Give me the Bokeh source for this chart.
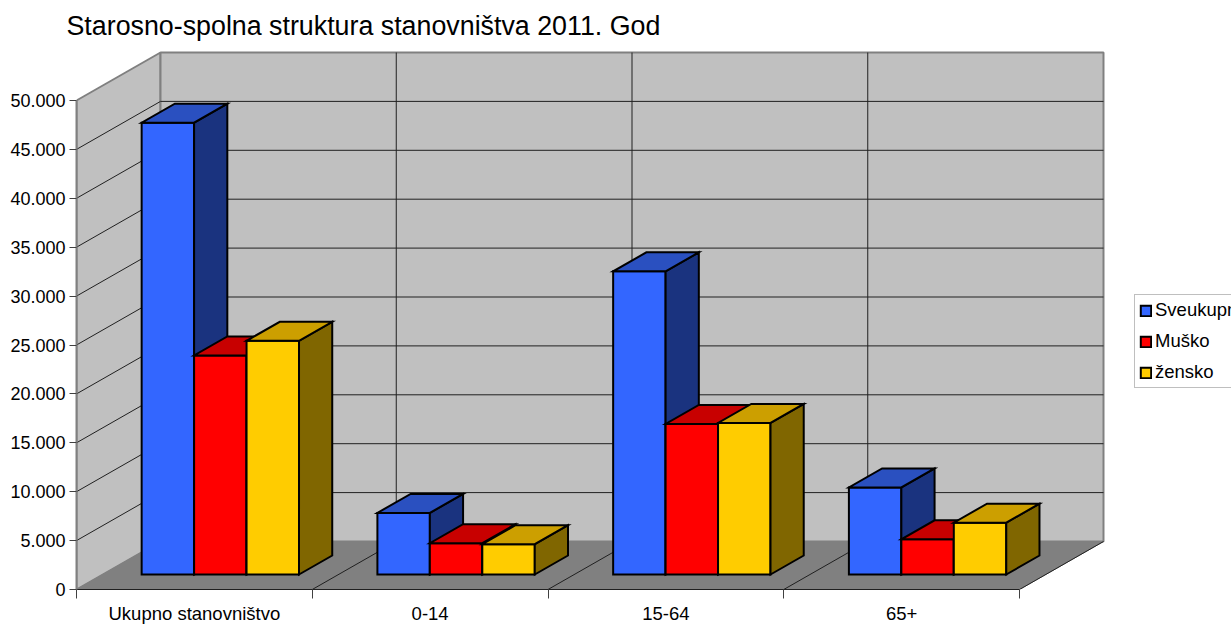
from bokeh.plotting import figure
from bokeh.embed import file_html
from bokeh.resources import INLINE
from bokeh.models import FixedTicker, Legend, LegendItem, Range1d, Title

categories = ["Ukupno stanovništvo", "0-14", "15-64", "65+"]
series_names = ["Sveukupno", "Muško", "žensko"]
sveukupno = [46200, 6300, 31000, 8900]
musko = [22400, 3200, 15400, 3600]
zensko = [23900, 3100, 15500, 5300]
y_ticks = [0, 5000, 10000, 15000, 20000, 25000, 30000, 35000, 40000, 45000, 50000]
y_labels = ["0", "5.000", "10.000", "15.000", "20.000", "25.000", "30.000", "35.000", "40.000", "45.000", "50.000"]

FRONT = ["#3366FF", "#FF0000", "#FFCC00"]
TOP = ["#2A50C0", "#C80000", "#CC9F00"]
SIDE = ["#1A337F", "#800000", "#806600"]

PX_X = 235.75          # px per category
PX_Y = 9.78 / 1000     # px per value unit
DX = 84 / PX_X         # wall depth in x units
DY = 48 / PX_Y         # wall depth in value units
D0, D1 = 0.3125, 0.708 # bar depth span
BAR_X0, BAR_W = 0.165, 0.2225

FW, FH = 1155, 549
p = figure(width=1231, height=624, frame_width=FW, frame_height=FH,
           output_backend="svg", toolbar_location=None,
           x_range=Range1d(0, FW / PX_X), y_range=Range1d(0, FH / PX_Y),
           min_border_left=76, min_border_right=0, min_border_bottom=35, min_border_top=40,
           outline_line_color=None, background_fill_color="white")
p.xgrid.visible = False
p.ygrid.visible = False
p.title = Title(text="Starosno-spolna struktura stanovništva 2011. God", text_font="Liberation Sans",
                text_font_size="26.8px", text_font_style="normal", text_color="#000000",
                align="left", offset=-10, standoff=0)

n = len(categories)
WALL = "#C0C0C0"
EDGE = "#808080"
# walls and floor
top = y_ticks[-1]
p.patch([0, DX, DX, 0], [0, DY, top + DY, top], fill_color=WALL, line_color=EDGE, line_width=2)
p.patch([DX, n + DX, n + DX, DX], [DY, DY, top + DY, top + DY], fill_color=WALL, line_color=EDGE, line_width=2)
p.patch([0, n, n + DX, DX], [0, 0, DY, DY], fill_color="#808080", line_color="#808080", line_width=1)
# grid
p.multi_line([[0, DX, n + DX] for v in y_ticks[1:-1]],
             [[v, v + DY, v + DY] for v in y_ticks[1:-1]], line_color="#202020", line_width=1)
p.multi_line([[k, k + DX, k + DX] for k in range(1, n)],
             [[0, DY, top + DY] for k in range(1, n)], line_color="#202020", line_width=1)
p.line([n, n + DX], [0, DY], line_color="#202020", line_width=1)

items = []
for s, vals in enumerate([sveukupno, musko, zensko]):
    xs, ys, cols = [], [], []
    for k, v in enumerate(vals):
        x0 = k + BAR_X0 + s * BAR_W
        x1 = x0 + BAR_W
        fx = lambda x, d: x + d * DX
        fy = lambda val, d: val + d * DY
        xs.append([fx(x0, D0), fx(x1, D0), fx(x1, D0), fx(x0, D0)])
        ys.append([fy(0, D0), fy(0, D0), fy(v, D0), fy(v, D0)])
        cols.append(FRONT[s])
        xs.append([fx(x1, D0), fx(x1, D1), fx(x1, D1), fx(x1, D0)])
        ys.append([fy(0, D0), fy(0, D1), fy(v, D1), fy(v, D0)])
        cols.append(SIDE[s])
        xs.append([fx(x0, D0), fx(x1, D0), fx(x1, D1), fx(x0, D1)])
        ys.append([fy(v, D0), fy(v, D0), fy(v, D1), fy(v, D1)])
        cols.append(TOP[s])
    r = p.patches(xs, ys, fill_color=cols, line_color="#000000", line_width=2, line_join="miter")
    items.append(LegendItem(label=series_names[s], renderers=[r], index=0))

legend = Legend(items=items, location=(1058, 201), orientation="vertical",
                label_text_font="Liberation Sans", label_text_font_size="18.5px", label_text_color="#000000",
                glyph_width=13, glyph_height=13, label_height=18, spacing=9, padding=4, margin=0,
                label_standoff=3, border_line_color="#808080", border_line_width=1,
                background_fill_color="white", background_fill_alpha=1)
p.add_layout(legend, "center")

# axes
ya = p.yaxis[0]
ya.ticker = FixedTicker(ticks=y_ticks)
ya.major_label_overrides = dict(zip(y_ticks, y_labels))
ya.major_label_text_font = "Liberation Sans"
ya.major_label_text_font_size = "18px"
ya.major_label_text_color = "#000000"
ya.major_tick_in = 0
ya.major_tick_out = 7
ya.major_tick_line_color = "#404040"
ya.minor_tick_line_color = None
ya.axis_line_color = "#808080"
ya.axis_line_width = 2
ya.major_label_standoff = 4
ya.bounds = (0, top)

xa = p.xaxis[0]
mids = [k + 0.5 for k in range(n)]
xa.ticker = FixedTicker(ticks=mids, minor_ticks=list(range(n + 1)))
xa.major_label_overrides = dict(zip(mids, categories))
xa.major_label_text_font = "Liberation Sans"
xa.major_label_text_font_size = "18.5px"
xa.major_label_text_color = "#000000"
xa.major_tick_line_color = None
xa.major_tick_in = 0
xa.major_tick_out = 0
xa.minor_tick_in = 0
xa.minor_tick_out = 9
xa.minor_tick_line_color = "#404040"
xa.axis_line_color = "#202020"
xa.axis_line_width = 1
xa.bounds = (0, n)
xa.major_label_standoff = 4

open("out.html", "w").write(file_html(p, INLINE))
